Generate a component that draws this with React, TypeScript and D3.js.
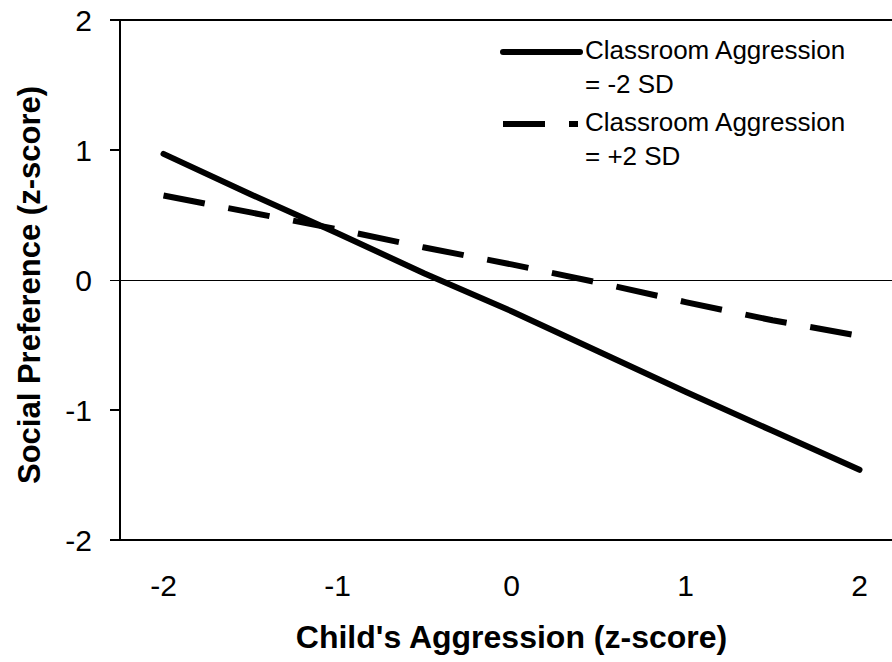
import * as d3 from "d3";

const WIDTH = 892;
const HEIGHT = 662;

// data
const xValues = [-2, -1.5, -1, -0.5, 0, 0.5, 1, 1.5, 2];
const lowClassroom = [0.97, 0.66, 0.36, 0.05, -0.24, -0.55, -0.86, -1.16, -1.46];
const highClassroom = [0.65, 0.52, 0.39, 0.25, 0.12, -0.02, -0.17, -0.31, -0.43];
const xTicks = [-2, -1, 0, 1, 2];
const yTicks = [-2, -1, 0, 1, 2];

const series = [
  { name: ["Classroom Aggression", "= -2 SD"], values: lowClassroom, dash: null },
  { name: ["Classroom Aggression", "= +2 SD"], values: highClassroom, dash: "42 24" },
];

const FONT = "'Liberation Sans', Arial, sans-serif";

export default function App() {
  const x = d3.scaleLinear().domain([-2.25, 2.25]).range([120, 903]);
  const y = d3.scaleLinear().domain([-2, 2]).range([540, 20]);

  const line = d3
    .line<number>()
    .x((_, i) => x(xValues[i]))
    .y((d) => y(d));

  const left = x.range()[0];

  return (
    <svg
      width={WIDTH}
      height={HEIGHT}
      style={{ position: "absolute", left: 0, top: 0, background: "#fff" }}
      fontFamily={FONT}>
      {/* frame: top, left, bottom */}
      <line x1={left} x2={WIDTH} y1={y(2)} y2={y(2)} stroke="#000" strokeWidth={2} />
      <line x1={left} x2={left} y1={y(2)} y2={y(-2)} stroke="#000" strokeWidth={2} />
      <line x1={left - 10} x2={WIDTH} y1={y(-2)} y2={y(-2)} stroke="#000" strokeWidth={2} />

      {/* zero reference line */}
      <line
        x1={left - 10}
        x2={WIDTH}
        y1={y(0) + 0.5}
        y2={y(0) + 0.5}
        stroke="#000"
        strokeWidth={1}
        shapeRendering="crispEdges"
      />

      {/* y ticks */}
      {yTicks.map((t) => (
        <g key={t}>
          {t !== 0 && (
            <line x1={left - 10} x2={left} y1={y(t)} y2={y(t)} stroke="#000" strokeWidth={2} />
          )}
          <text x={92} y={y(t)} dy="0.36em" textAnchor="end" fontSize={30} fill="#000">
            {t}
          </text>
        </g>
      ))}

      {/* x tick labels */}
      {xTicks.map((t) => (
        <text key={t} x={x(t)} y={596} textAnchor="middle" fontSize={30} fill="#000">
          {t}
        </text>
      ))}

      {/* series */}
      {series.map((s) => (
        <path
          key={s.name[1]}
          d={line(s.values) ?? ""}
          fill="none"
          stroke="#000"
          strokeWidth={6}
          strokeLinecap={s.dash ? "butt" : "round"}
          strokeLinejoin="round"
          strokeDasharray={s.dash ?? undefined}
        />
      ))}

      {/* legend */}
      {series.map((s, i) => {
        const ly = 52 + i * 72;
        return (
          <g key={s.name[1]}>
            <line
              x1={503}
              x2={s.dash ? 578 : 580}
              y1={ly}
              y2={ly}
              stroke="#000"
              strokeWidth={6}
              strokeLinecap={s.dash ? "butt" : "round"}
              strokeDasharray={s.dash ?? undefined}
            />
            <text x={585} y={ly + 6.5} fontSize={26} fill="#000">
              {s.name[0]}
            </text>
            <text x={585} y={ly + 40.5} fontSize={26} fill="#000">
              {s.name[1]}
            </text>
          </g>
        );
      })}

      {/* axis titles */}
      <text x={x(0)} y={648} textAnchor="middle" fontSize={32} fontWeight="bold" fill="#000">
        Child's Aggression (z-score)
      </text>
      <text
        transform={`translate(40,285) rotate(-90)`}
        textAnchor="middle"
        fontSize={31}
        fontWeight="bold"
        fill="#000">
        Social Preference (z-score)
      </text>
    </svg>
  );
}
